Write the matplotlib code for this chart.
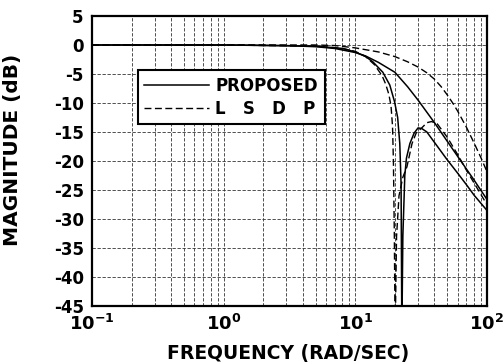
import matplotlib
matplotlib.use("Agg")
import matplotlib.pyplot as plt
from matplotlib.ticker import FixedLocator, LogLocator, NullFormatter

plt.rcParams['font.family'] = ['DejaVu Sans']
plt.rcParams['mathtext.fontset'] = 'custom'
plt.rcParams['mathtext.rm'] = 'DejaVu Sans:bold'
plt.rcParams['mathtext.bf'] = 'DejaVu Sans:bold'
plt.rcParams['mathtext.it'] = 'DejaVu Sans:bold'

# ---- data ----
# System 1, proposed (solid, smooth roll-off)
f_s1 = [0.1, 1, 3, 5, 7, 10, 12, 15, 20, 25, 30, 40, 50, 60, 70, 80, 100]
db_s1 = [0, 0, -0.1, -0.3, -0.6, -1.3, -1.9, -3.0, -4.7, -7.2, -9.5, -13.4, -16.6, -19.2, -21.4, -23.3, -26.6]

# System 1, LSDP (dashed, smooth roll-off)
f_d1 = [0.1, 1, 5, 7, 10, 15, 20, 25, 30, 35, 40, 45, 50, 55, 60, 70, 80, 90, 100]
db_d1 = [0, 0, 0, -0.1, -0.5, -1.2, -2.0, -2.9, -3.8, -4.8, -5.9, -7.2, -8.6, -10.0, -11.4, -14.2, -16.9, -19.4, -21.8]

# System 2, proposed (solid, with notch)
f_s2 = [0.1, 1, 5, 8, 10, 12, 13.6, 16.2, 18.3, 19.9, 21.0, 21.8, 22.3, 22.6, 23.0, 23.8,
        24.5, 26, 28, 30, 32, 35, 40, 50, 60, 70, 80, 100]
db_s2 = [0, 0, -0.2, -0.6, -1.2, -2.0, -2.9, -4.7, -6.9, -9.8, -12.5, -17.0, -24.0, -50.0, -33.0, -22.5,
         -19.5, -17.0, -15.2, -14.3, -14.4, -15.0, -16.8, -19.8, -22.1, -24.1, -25.9, -28.5]

# System 2, LSDP (dashed, with notch)
f_d2 = [0.1, 1, 5, 8, 10, 12, 14, 16, 17, 18, 18.7, 19.2, 19.5, 19.8, 20.1, 20.6, 21.5, 23,
        24.7, 27, 29, 32, 35, 38, 42, 50, 60, 70, 80, 100]
db_d2 = [0, 0, -0.2, -0.6, -1.1, -2.0, -3.4, -5.3, -6.7, -8.5, -10.5, -14.0, -20.0, -32.0, -50.0, -33.0, -26.0, -22.8,
         -21.0, -17.0, -15.2, -14.3, -13.4, -13.2, -13.6, -15.9, -18.9, -21.6, -23.8, -27.5]

xticks = [0.1, 1, 10, 100]
xticklabels = [r'$10^{-1}$', r'$10^{0}$', r'$10^{1}$', r'$10^{2}$']
yticks = [5, 0, -5, -10, -15, -20, -25, -30, -35, -40, -45]

fig = plt.figure(figsize=(5.04, 3.63), dpi=100)
ax = fig.add_axes([0.1825, 0.157, 0.7835, 0.799])

ax.semilogx(f_s1, db_s1, color='black', lw=1.1, label='PROPOSED')
ax.semilogx(f_d1, db_d1, color='black', lw=1.0, ls=(0, (5, 2.5)), label='L   S   D   P')
ax.semilogx(f_s2, db_s2, color='black', lw=1.1)
ax.semilogx(f_d2, db_d2, color='black', lw=1.0, ls=(0, (5, 2.5)))

ax.set_xlim(0.1, 100)
ax.set_ylim(-45, 5)
ax.xaxis.set_major_locator(FixedLocator(xticks))
ax.set_xticklabels(xticklabels, fontsize=13)
ax.xaxis.set_minor_locator(LogLocator(base=10, subs=range(2, 10)))
ax.xaxis.set_minor_formatter(NullFormatter())
ax.set_yticks(yticks)
ax.set_yticklabels([str(v) for v in yticks], fontsize=12, fontweight='bold')
for t in ax.get_yticklabels():
    t.set_verticalalignment('center_baseline')

ax.grid(True, which='major', axis='both', color='0.2', lw=0.6, ls=(0, (4, 2)))
ax.grid(True, which='minor', axis='x', color='0.2', lw=0.6, ls=(0, (4, 2)))
ax.tick_params(axis='both', which='both', length=0)
ax.tick_params(axis='y', pad=6)
ax.tick_params(axis='x', pad=6)

for s in ax.spines.values():
    s.set_linewidth(1.6)

ax.set_xlabel('FREQUENCY (RAD/SEC)', fontsize=13.5, fontweight='bold', va='top')
ax.xaxis.set_label_coords(0.497, -0.13)
ax.set_ylabel('MAGNITUDE (dB)', fontsize=14.5, fontweight='bold')
ax.yaxis.set_label_coords(-0.178, 0.54)

leg = ax.legend(loc='upper left', bbox_to_anchor=(0.116, 0.814), borderaxespad=0,
                fancybox=False, edgecolor='black', framealpha=1, handlelength=3.9,
                handletextpad=0.35, borderpad=0.4, labelspacing=0.3,
                prop={'weight': 'bold', 'size': 12})
leg.get_frame().set_linewidth(1.5)

fig.savefig('out.png', dpi=100)
